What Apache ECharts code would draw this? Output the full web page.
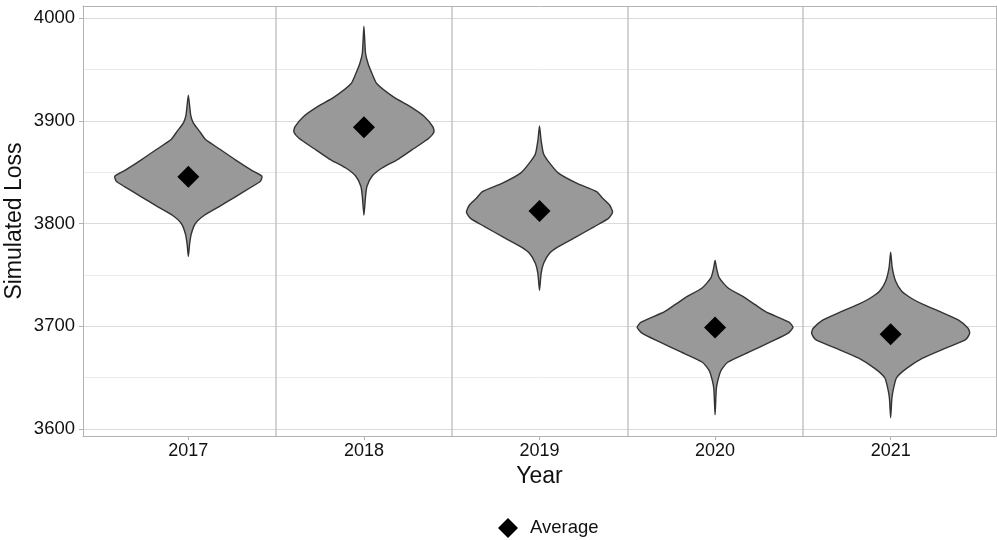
<!DOCTYPE html>
<html>
<head>
<meta charset="utf-8">
<title>Simulated Loss by Year</title>
<script src="https://cdn.jsdelivr.net/npm/echarts@6/dist/echarts.min.js"></script>
<style>
  html, body { margin: 0; padding: 0; background: #ffffff; }
  #chart { width: 997px; height: 540px; }
</style>
</head>
<body>
<div id="chart"></div>
<script>
// Years shown on the x axis
const years = ['2017', '2018', '2019', '2020', '2021'];

// Average simulated loss per year
const averages = [3845.5, 3893.6, 3812.1, 3698.8, 3692.3];

// Violin outlines per year: [loss, half-width of the density in x-axis units],
// listed from the top tip down to the bottom tip
const violin2017 = [
  [3925, 0], [3915, 0.007], [3905, 0.014], [3898, 0.028], [3890, 0.063],
  [3882, 0.097], [3872, 0.182], [3862, 0.268], [3852, 0.359], [3846, 0.419],
  [3841, 0.41], [3836, 0.364], [3826, 0.268], [3816, 0.171], [3808, 0.091],
  [3800, 0.04], [3790, 0.017], [3780, 0.007], [3768, 0]
];
const violin2018 = [
  [3992, 0], [3966, 0.009], [3956, 0.023], [3946, 0.046], [3936, 0.074],
  [3923, 0.17], [3914, 0.262], [3904, 0.345], [3894, 0.393], [3889, 0.399],
  [3883, 0.37], [3873, 0.285], [3863, 0.199], [3854, 0.103], [3846, 0.046],
  [3836, 0.017], [3826, 0.009], [3808, 0]
];
const violin2019 = [
  [3895, 0], [3881, 0.009], [3868, 0.023], [3859, 0.057], [3849, 0.108],
  [3839, 0.214], [3831, 0.325], [3824, 0.363], [3818, 0.399], [3811, 0.416],
  [3805, 0.393], [3797, 0.313], [3787, 0.209], [3777, 0.103], [3771, 0.057],
  [3761, 0.023], [3751, 0.009], [3735, 0]
];
const violin2020 = [
  [3764, 0], [3756, 0.009], [3747, 0.024], [3737, 0.076], [3729, 0.158],
  [3721, 0.228], [3714, 0.29], [3704, 0.421], [3699, 0.444], [3693, 0.414],
  [3685, 0.319], [3675, 0.195], [3665, 0.072], [3657, 0.034], [3648, 0.017],
  [3639, 0.007], [3614, 0]
];
const violin2021 = [
  [3772, 0], [3757, 0.009], [3744, 0.028], [3734, 0.063], [3727, 0.12],
  [3721, 0.188], [3714, 0.285], [3706, 0.387], [3698, 0.441], [3693, 0.45],
  [3687, 0.427], [3679, 0.317], [3669, 0.182], [3659, 0.091], [3650, 0.034],
  [3640, 0.017], [3630, 0.007], [3611, 0]
];
const violins = [violin2017, violin2018, violin2019, violin2020, violin2021];

// Tick positions
const yMajorTicks = [3600, 3700, 3800, 3900, 4000];
const yMinorTicks = [3650, 3750, 3850, 3950];
const xTicks = [1, 2, 3, 4, 5];
const xSeparators = [1.5, 2.5, 3.5, 4.5];

const FONT = '"Liberation Sans", Arial, sans-serif';
const TEXT = '#111111';
const BORDER = '#b3b3b3';

const chart = echarts.init(document.getElementById('chart'), null, { renderer: 'canvas' });

// Builds a closed violin polygon for one year: right side top-to-bottom,
// then the left side back up (tips are shared, so they are not repeated)
function renderViolin(params, api) {
  const idx = api.value(0);
  const centre = idx + 1;
  const outline = violins[idx];
  const right = outline.map(p => api.coord([centre + p[1], p[0]]));
  const left = outline.slice(1, -1).reverse().map(p => api.coord([centre - p[1], p[0]]));
  return {
    type: 'polygon',
    shape: { points: right.concat(left), smooth: 0.2 },
    style: { fill: '#999999', stroke: '#333333', lineWidth: 1.4, lineJoin: 'round' }
  };
}

const option = {
  backgroundColor: '#ffffff',
  animation: false,
  textStyle: { fontFamily: FONT },
  grid: { left: 83, top: 6, width: 913, height: 430, containLabel: false, outerBoundsMode: 'none' },
  legend: {
    data: ['Average'],
    left: 493,
    top: 513,
    itemWidth: 20,
    itemHeight: 20,
    itemGap: 10,
    textStyle: { fontFamily: FONT, fontSize: 18.5, color: TEXT, padding: [0, 0, 0, 7] }
  },
  xAxis: [
    {
      type: 'value',
      min: 0.4,
      max: 5.6,
      name: 'Year',
      nameLocation: 'middle',
      nameGap: 29,
      nameMoveOverlap: false,
      nameTextStyle: { fontFamily: FONT, fontSize: 23, color: TEXT },
      axisLine: { show: true, lineStyle: { color: BORDER, width: 1 } },
      axisTick: { show: true, customValues: xTicks, length: 4, lineStyle: { color: BORDER } },
      axisLabel: {
        customValues: xTicks,
        margin: 6,
        fontFamily: FONT,
        fontSize: 18,
        color: TEXT,
        formatter: v => years[Math.round(v) - 1]
      },
      splitLine: { show: false }
    },
    {
      type: 'value',
      min: 0.4,
      max: 5.6,
      position: 'top',
      axisLine: { show: true, lineStyle: { color: BORDER, width: 1 } },
      axisTick: { show: false, customValues: xSeparators },
      axisLabel: { show: false },
      splitLine: { show: true, lineStyle: { color: '#c4c4c4', width: 1.5 } }
    }
  ],
  yAxis: [
    {
      type: 'value',
      min: 3593.2,
      max: 4011.7,
      name: 'Simulated Loss',
      nameLocation: 'middle',
      nameGap: 57,
      nameMoveOverlap: false,
      nameTextStyle: { fontFamily: FONT, fontSize: 23, color: TEXT },
      axisLine: { show: true, lineStyle: { color: BORDER, width: 1 } },
      axisTick: { show: true, customValues: yMajorTicks, length: 4, lineStyle: { color: BORDER } },
      axisLabel: {
        customValues: yMajorTicks,
        margin: 8,
        fontFamily: FONT,
        fontSize: 18.5,
        color: TEXT,
        formatter: v => String(Math.round(v))
      },
      splitLine: { show: true, lineStyle: { color: '#dcdcdc', width: 1.1 } }
    },
    {
      type: 'value',
      min: 3593.2,
      max: 4011.7,
      position: 'right',
      axisLine: { show: true, lineStyle: { color: BORDER, width: 1 } },
      axisTick: { show: false, customValues: yMinorTicks },
      axisLabel: { show: false },
      splitLine: { show: true, lineStyle: { color: '#e6e6e6', width: 0.8 } }
    }
  ],
  series: [
    {
      name: 'Violin',
      type: 'custom',
      xAxisIndex: 0,
      yAxisIndex: 0,
      renderItem: renderViolin,
      data: years.map((y, i) => [i]),
      encode: { x: -1, y: -1 },
      silent: true,
      z: 3
    },
    {
      name: 'Average',
      type: 'scatter',
      xAxisIndex: 0,
      yAxisIndex: 0,
      symbol: 'diamond',
      symbolSize: 22,
      itemStyle: { color: '#000000', opacity: 1 },
      data: averages.map((v, i) => [i + 1, v]),
      z: 5
    }
  ]
};

chart.setOption(option);
</script>
</body>
</html>
